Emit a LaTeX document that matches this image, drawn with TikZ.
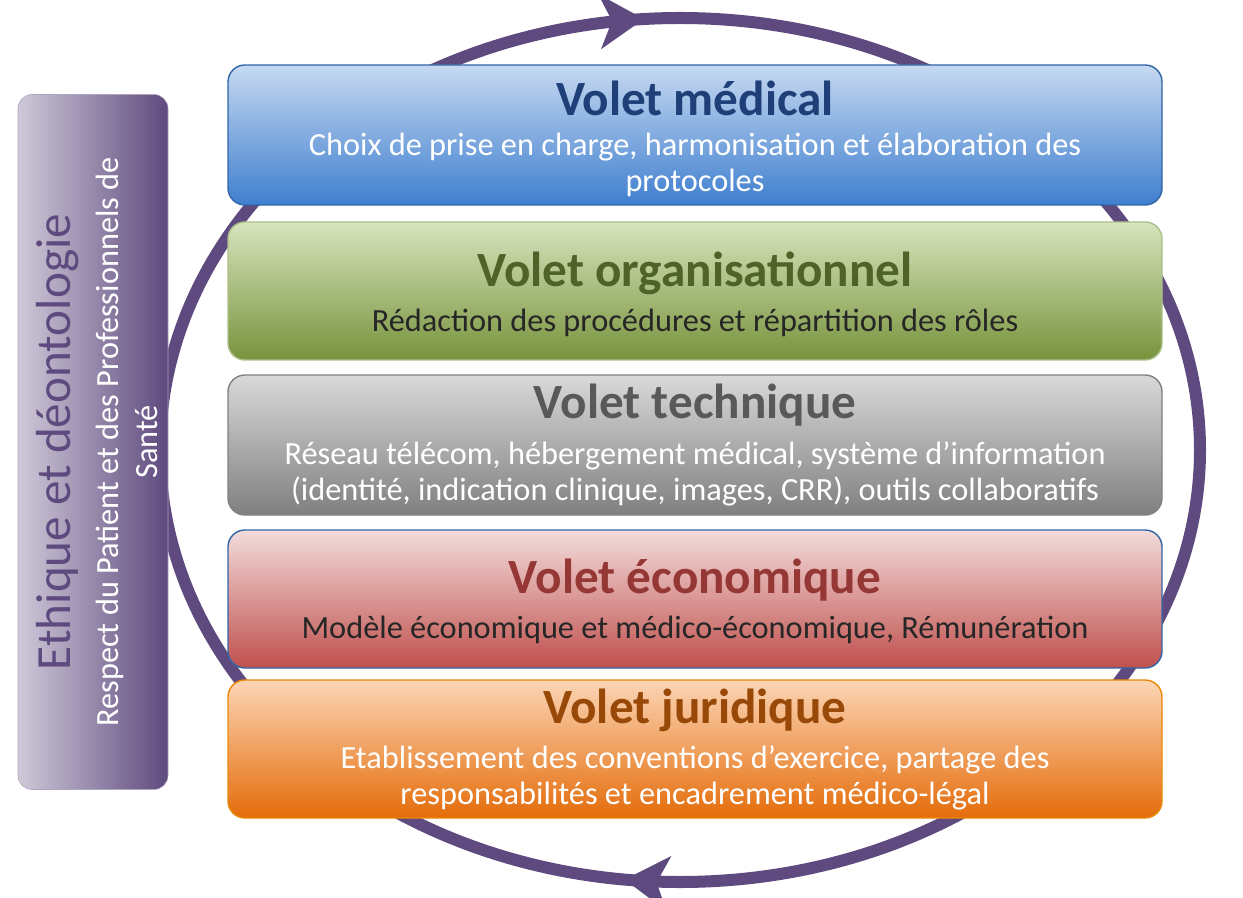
\documentclass[tikz,border=0pt]{standalone}
\usepackage{fontspec}
\setmainfont{Carlito}
\usetikzlibrary{arrows.meta,decorations.markings}
\definecolor{cycle}{HTML}{5E4A7E}
\definecolor{medhaut}{HTML}{C6D9F1}
\definecolor{medbas}{HTML}{3F7FCF}
\definecolor{medtitre}{HTML}{1F3F78}
\definecolor{orghaut}{HTML}{D7E4BD}
\definecolor{orgbas}{HTML}{77933C}
\definecolor{orgtitre}{HTML}{4F6228}
\definecolor{ecohaut}{HTML}{F2DCDB}
\definecolor{ecobas}{HTML}{C0504D}
\definecolor{ecotitre}{HTML}{953735}
\definecolor{jurhaut}{HTML}{FCD5B5}
\definecolor{jurbas}{HTML}{E46C0A}
\definecolor{jurtitre}{HTML}{984807}
\begin{document}
\begin{tikzpicture}
  [x=0.025cm,y=-0.025cm,
   volet/.style={rectangle,rounded corners=12pt,draw,line width=1pt,minimum width=934*0.025cm,inner sep=0pt},
   titre/.style={font=\fontsize{35}{40}\selectfont\bfseries},
   detail/.style={font=\fontsize{23}{26}\selectfont,align=center},
   tete/.style={postaction={decorate,decoration={markings,
      mark=at position #1 with {\arrow[cycle]{Stealth[length=1.1cm,width=1.35cm,inset=0.3cm]}}}}}]
  \useasboundingbox (0,0) rectangle (1243,898);
  % cycle
  \draw[cycle,line width=0.3cm,tete=0.537] (1200,450) arc[start angle=0,end angle=180,x radius=520,y radius=432];
  \draw[cycle,line width=0.3cm,tete=0.476] (160,450) arc[start angle=180,end angle=360,x radius=520,y radius=432];
  % ethique
  \node[rectangle,rounded corners=10pt,draw=cycle!50,left color=cycle!30,right color=cycle,
        minimum width=150*0.025cm,minimum height=695*0.025cm] (ethique) at (93,442) {};
  \node[rotate=90,text=cycle,font=\fontsize{35}{40}\selectfont] (ethiquet) at (58,442) {Ethique et déontologie};
  \node[rotate=90,text=white,font=\fontsize{23}{28}\selectfont,align=center] (respect) at (127,442)
    {Respect du Patient et des Professionnels de\\Santé};
  % volets
  \node[volet,draw=medbas!80!black,top color=medhaut,bottom color=medbas,
        minimum height=140*0.025cm] (medical) at (695,135) {};
  \node[titre,text=medtitre] (medicalt) at (695,98) {Volet médical};
  \node[detail,text=white] (medicald) at (695,165) {Choix de prise en charge, harmonisation et élaboration des\\protocoles};
  \node[volet,draw=orgbas!60!white,top color=orghaut,bottom color=orgbas,
        minimum height=138*0.025cm] (orga) at (695,291) {};
  \node[titre,text=orgtitre] (orgat) at (695,273) {Volet organisationnel};
  \node[detail,text=black!85] (orgad) at (695,323) {Rédaction des procédures et répartition des rôles};
  \node[volet,draw=black!50,top color=black!15,bottom color=black!50,
        minimum height=140*0.025cm] (tech) at (695,445) {};
  \node[titre,text=black!65] (techt) at (695,405) {Volet technique};
  \node[detail,text=white] (techd) at (695,474) {Réseau télécom, hébergement médical, système d’information\\(identité, indication clinique, images, CRR), outils collaboratifs};
  \node[volet,draw=medbas!80!black,top color=ecohaut,bottom color=ecobas,
        minimum height=138*0.025cm] (eco) at (695,599) {};
  \node[titre,text=ecotitre] (ecot) at (695,580) {Volet économique};
  \node[detail,text=black!85] (ecod) at (695,630) {Modèle économique et médico-économique, Rémunération};
  \node[volet,draw=jurbas!80!yellow,top color=jurhaut,bottom color=jurbas,
        minimum height=138*0.025cm] (juri) at (695,749) {};
  \node[titre,text=jurtitre] (jurit) at (695,710) {Volet juridique};
  \node[detail,text=white] (jurid) at (695,778) {Etablissement des conventions d’exercice, partage des\\responsabilités et encadrement médico-légal};
\end{tikzpicture}
\end{document}
